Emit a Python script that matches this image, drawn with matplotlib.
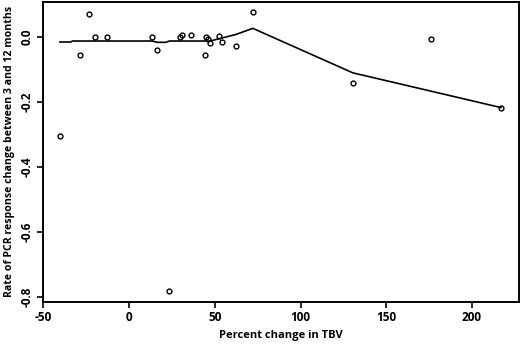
import matplotlib
matplotlib.use("Agg")
import matplotlib.pyplot as plt

# Data
tbv_change = [-40.3, -28.6, -23.2, -19.8, -13.0, 13.4, 16.5, 23.5, 29.7, 30.7, 36.0,
              44.1, 44.7, 46.3, 47.3, 52.5, 54.1, 62.2, 72.2, 130.5, 176.0, 216.9]
pcr_rate = [-0.304, -0.055, 0.071, 0.001, -0.001, 0.000, -0.040, -0.782, 0.001, 0.006, 0.006,
            -0.055, -0.001, -0.007, -0.017, 0.003, -0.016, -0.028, 0.076, -0.141, -0.007, -0.219]

fit_x = [-40.3, -34.0, -33.0, 13.4, 16.5, 21.5, 23.5, 47.3, 62.2, 72.2, 130.5, 216.9]
fit_y = [-0.015, -0.015, -0.012, -0.012, -0.016, -0.016, -0.012, -0.012, 0.008, 0.027, -0.110, -0.217]

x_ticks = [-50, 0, 50, 100, 150, 200]
y_ticks = [0.0, -0.2, -0.4, -0.6, -0.8]

plt.rcParams['font.family'] = ['Open Sans', 'DejaVu Sans']

fig = plt.figure(figsize=(5.2, 3.44), dpi=100)
ax = fig.add_axes([0.0833, 0.123, 0.915, 0.871])

ax.plot(fit_x, fit_y, color='black', linewidth=1.2)
ax.plot(tbv_change, pcr_rate, linestyle='none', marker='o', markersize=3.5,
        markerfacecolor='none', markeredgecolor='black', markeredgewidth=1.0)

ax.set_xlim(-50, 227.5)
ax.set_ylim(-0.815, 0.108)
ax.set_xticks(x_ticks)
ax.set_xticklabels([str(t) for t in x_ticks], fontsize=8.5, fontweight='bold')
ax.set_yticks(y_ticks)
ax.set_yticklabels([f"{t:.1f}" for t in y_ticks], fontsize=8.5, fontweight='bold',
                   rotation=90, va='center')
ax.tick_params(direction='out', length=4, width=1.2, pad=3)
for s in ax.spines.values():
    s.set_linewidth(1.4)

ax.set_xlabel("Percent change in TBV", fontsize=8, fontweight='bold', labelpad=4)
ax.set_ylabel("Rate of PCR response change between 3 and 12 months", fontsize=7.6,
              fontweight='bold', labelpad=4)

fig.savefig("out.png", dpi=100)
